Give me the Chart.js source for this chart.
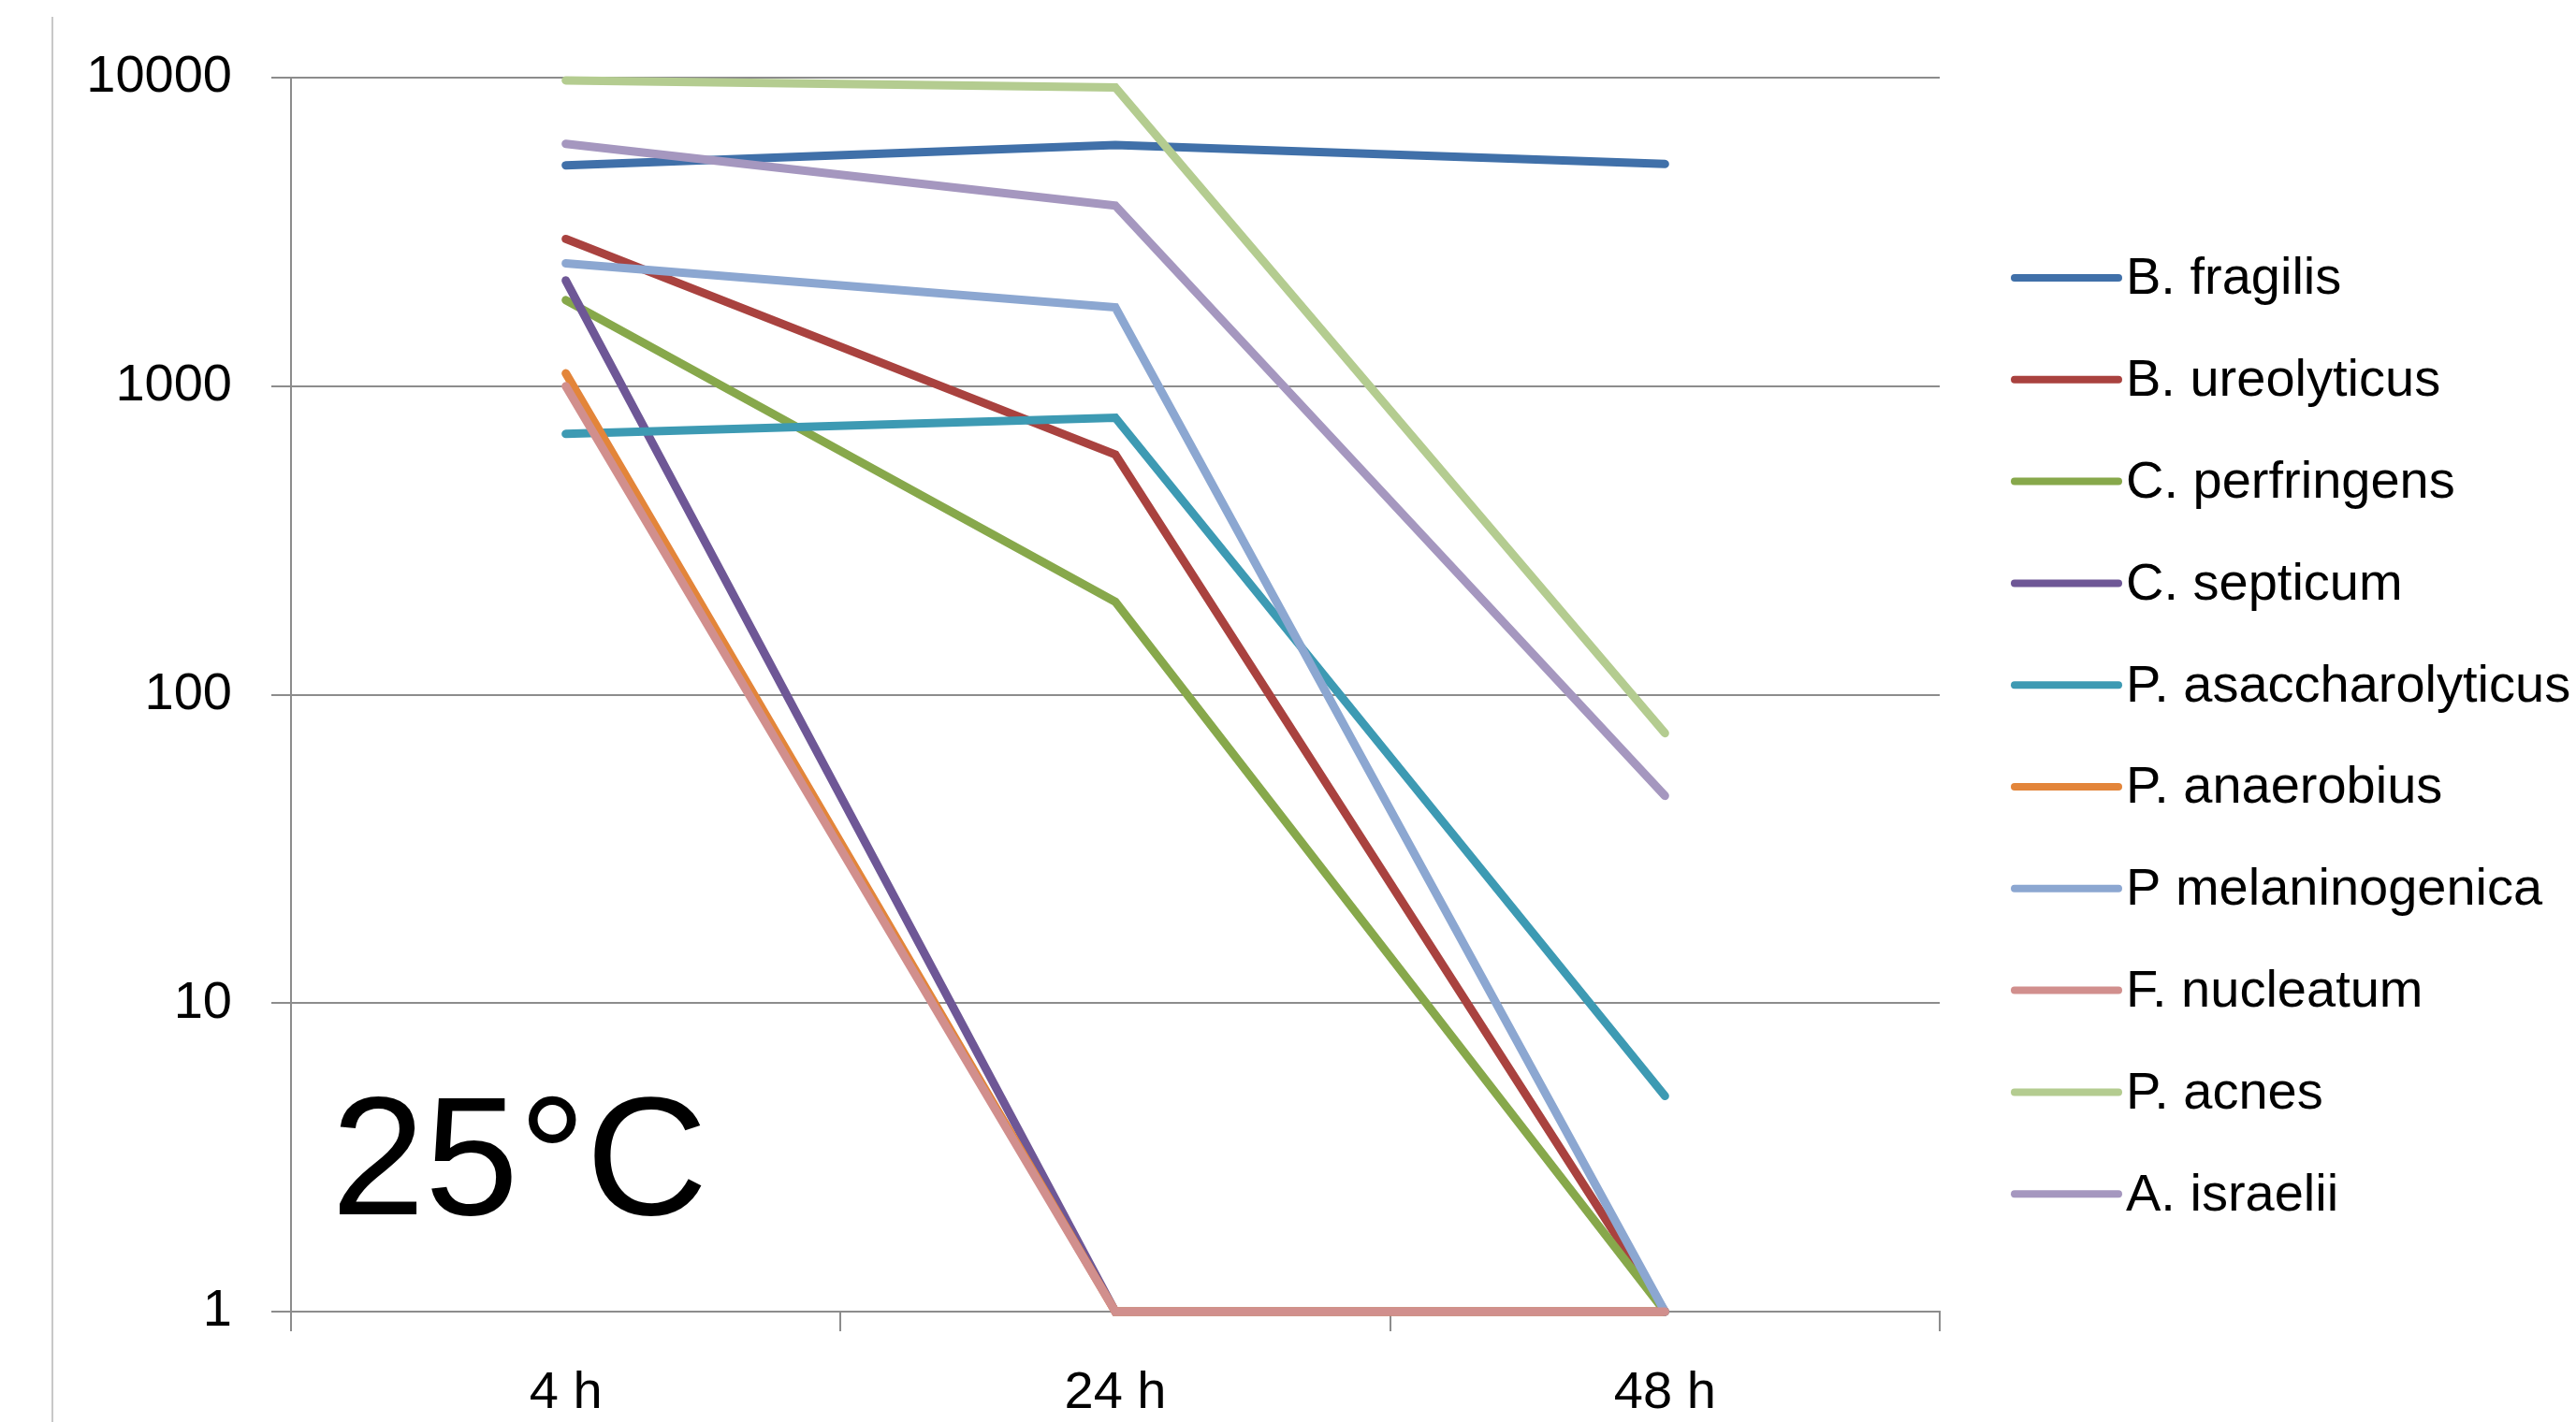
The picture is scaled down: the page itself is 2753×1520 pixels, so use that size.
<!DOCTYPE html>
<html>
<head>
<meta charset="utf-8">
<script src="https://cdn.jsdelivr.net/npm/chart.js@4/dist/chart.umd.min.js"></script>
<style>
html,body{margin:0;padding:0;background:#fff;overflow:hidden;}
#wrap{width:2753px;height:1520px;position:relative;}
</style>
</head>
<body>
<div id="wrap"><canvas id="c" width="2753" height="1520"></canvas></div>
<script>
const categories = ['4 h', '24 h', '48 h'];
const seriesNames = ['B. fragilis', 'B. ureolyticus', 'C. perfringens', 'C. septicum', 'P. asaccharolyticus', 'P. anaerobius', 'P melaninogenica', 'F. nucleatum', 'P. acnes', 'A. israelii'];
const bFragilis = [5200, 6050, 5250];
const bUreolyticus = [3000, 600, 1];
const cPerfringens = [1900, 200, 1];
const cSepticum = [2200, 1, 1];
const pAsaccharolyticus = [700, 790, 5];
const pAnaerobius = [1100, 1, 1];
const pMelaninogenica = [2500, 1800, 1];
const fNucleatum = [1000, 1, 1];
const pAcnes = [9800, 9300, 75];
const aIsraelii = [6100, 3850, 47];
const yTicks = [1, 10, 100, 1000, 10000];
const seriesColors = ['#4070A9', '#A9423F', '#87A84B', '#6E5796', '#3D9AB3', '#E3853A', '#8CA7D1', '#D18F8D', '#B4CC90', '#A597BF'];
const tempLabel = '25°C';

const seriesValues = [bFragilis, bUreolyticus, cPerfringens, cSepticum, pAsaccharolyticus, pAnaerobius, pMelaninogenica, fNucleatum, pAcnes, aIsraelii];

const FONT = "'Liberation Sans', Arial, sans-serif";
const GRID = '#8c8c8c';

const datasets = seriesValues.map((vals, i) => ({
  label: seriesNames[i],
  data: vals,
  borderColor: seriesColors[i],
  backgroundColor: seriesColors[i],
  borderWidth: 9,
  borderCapStyle: 'round',
  borderJoinStyle: 'miter',
  pointRadius: 0,
  pointHoverRadius: 0,
  tension: 0,
  fill: false,
  clip: 12,
  order: -i
}));

const decor = {
  id: 'decor',
  beforeDraw(chart) {
    const ctx = chart.ctx;
    ctx.save();
    ctx.strokeStyle = '#c8c8c8';
    ctx.lineWidth = 2;
    ctx.beginPath();
    ctx.moveTo(56, 18);
    ctx.lineTo(56, 1520);
    ctx.stroke();
    ctx.restore();
  },
  afterDraw(chart) {
    const ctx = chart.ctx;
    ctx.save();
    ctx.fillStyle = '#000';
    ctx.font = "180px " + FONT;
    ctx.textAlign = 'left';
    ctx.textBaseline = 'alphabetic';
    ctx.fillText(tempLabel, 354, 1298);
    const x0 = 2153, x1 = 2264, tx = 2272, y0 = 297, step = 108.8;
    ctx.font = "56px " + FONT;
    ctx.textBaseline = 'middle';
    chart.data.datasets.forEach((ds, i) => {
      const y = y0 + i * step;
      ctx.strokeStyle = ds.borderColor;
      ctx.lineWidth = 8;
      ctx.lineCap = 'round';
      ctx.beginPath();
      ctx.moveTo(x0, y);
      ctx.lineTo(x1, y);
      ctx.stroke();
      ctx.fillStyle = '#000';
      ctx.fillText(ds.label, tx, y + 2);
    });
    ctx.restore();
  }
};

new Chart(document.getElementById('c'), {
  type: 'line',
  data: { labels: categories, datasets },
  options: {
    responsive: false,
    animation: false,
    devicePixelRatio: 1,
    layout: { padding: { left: 0, right: 680, top: 83, bottom: 0 } },
    plugins: { legend: { display: false }, tooltip: { enabled: false } },
    scales: {
      x: {
        type: 'category',
        offset: true,
        grid: { offset: true, drawOnChartArea: false, drawTicks: true, tickLength: 21, color: GRID, lineWidth: 2 },
        border: { display: true, color: GRID, width: 2 },
        ticks: { color: '#000', font: { family: FONT, size: 56 }, padding: 33, maxRotation: 0, autoSkip: false },
        afterFit(scale) { scale.height = 118; }
      },
      y: {
        type: 'logarithmic',
        min: 1,
        max: 10000,
        afterBuildTicks(scale) { scale.ticks = yTicks.map(v => ({ value: v })); },
        grid: { color: GRID, lineWidth: 2, tickLength: 21, drawTicks: true },
        border: { display: true, color: GRID, width: 2 },
        ticks: {
          color: '#000',
          font: { family: FONT, size: 56 },
          padding: 42,
          callback: (v) => String(v)
        },
        afterFit(scale) { scale.width = 311; }
      }
    }
  },
  plugins: [decor]
});
</script>
</body>
</html>
